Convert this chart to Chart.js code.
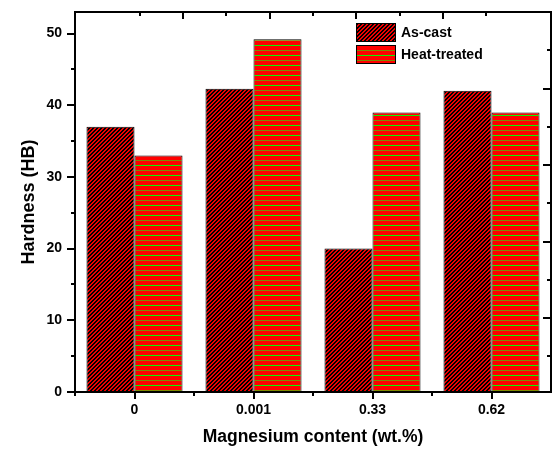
<!DOCTYPE html>
<html>
<head>
<meta charset="utf-8">
<script src="https://cdn.jsdelivr.net/npm/chart.js@4.4.0/dist/chart.umd.min.js"></script>
<style>
	html, body { margin: 0; padding: 0; background: #fff; }
	canvas { display: block; }
</style>
</head>
<body>
<canvas id="hardness-chart" width="555" height="452"></canvas>
<script>
// Data
var categories = ["0", "0.001", "0.33", "0.62"];
var asCast = [37, 42.3, 20, 42];
var heatTreated = [33, 49.2, 39, 39];
var seriesNames = ["As-cast", "Heat-treated"];

// Axis tick values
var yTickValues = [0, 5, 10, 15, 20, 25, 30, 35, 40, 45, 50];
var topTickValues = [1, 2, 3, 4, 5, 6, 7, 8, 9];
var rightTickValues = [0, 1, 2, 3, 4, 5, 6, 7, 8];

var FONT = "'Liberation Sans', Arial, sans-serif";

var canvas = document.getElementById("hardness-chart");
var ctx = canvas.getContext("2d");

// red with black "/" hatching
function makeDiagonalPattern() {
	var c = document.createElement("canvas");
	c.width = 4;
	c.height = 4;
	var g = c.getContext("2d");
	for (var x = 0; x < 4; x++) {
		for (var y = 0; y < 4; y++) {
			g.fillStyle = (x + y) % 4 < 2 ? "#000000" : "#f00000";
			g.fillRect(x, y, 1, 1);
		}
	}
	return ctx.createPattern(c, "repeat");
}

// red with green horizontal lines
function makeHorizontalPattern() {
	var c = document.createElement("canvas");
	c.width = 4;
	c.height = 10;
	var g = c.getContext("2d");
	g.fillStyle = "#ff0000";
	g.fillRect(0, 0, 4, 10);
	g.fillStyle = "#808a00";
	g.fillRect(0, 0, 4, 1);
	g.fillStyle = "#00ff00";
	g.fillRect(0, 5, 4, 1);
	return ctx.createPattern(c, "repeat");
}

// frame and tick marks on all four sides
var framePlugin = {
	id: "frame",
	afterDatasetsDraw: function (chart) {
		var c = chart.ctx;
		var a = chart.chartArea;
		var xs = chart.scales.x;
		var ys = chart.scales.y;
		var xt = chart.scales.xTop;
		var yr = chart.scales.yRight;
		c.save();
		c.strokeStyle = "#000";
		c.lineWidth = 2;
		c.strokeRect(a.left, a.top, a.right - a.left, a.bottom - a.top);
		c.beginPath();
		yTickValues.forEach(function (v) {
			var y = Math.round(ys.getPixelForValue(v));
			var len = v % 10 === 0 ? 8 : 4;
			c.moveTo(a.left - len, y);
			c.lineTo(a.left, y);
		});
		for (var i = 0; i < categories.length; i++) {
			var px = Math.round(xs.getPixelForValue(i));
			c.moveTo(px, a.bottom);
			c.lineTo(px, a.bottom + 7);
			var bx = Math.round(xs.getPixelForValue(i - 0.5));
			c.moveTo(bx, a.bottom);
			c.lineTo(bx, a.bottom + 4);
		}
		topTickValues.forEach(function (v) {
			var x = Math.round(xt.getPixelForValue(v));
			var len = v % 2 === 0 ? 7 : 4;
			c.moveTo(x, a.top);
			c.lineTo(x, a.top + len);
		});
		rightTickValues.forEach(function (v) {
			var y = Math.round(yr.getPixelForValue(v));
			var len = v % 2 === 1 ? 8 : 4;
			c.moveTo(a.right, y);
			c.lineTo(a.right - len, y);
		});
		c.stroke();
		c.restore();
	},
};

// boxed legend in the upper right of the plot
var legendPlugin = {
	id: "boxLegend",
	afterDraw: function (chart) {
		var c = chart.ctx;
		var x0 = 356, y0 = 23, w = 40, h = 19, gap = 3;
		c.save();
		chart.data.datasets.forEach(function (ds, i) {
			var y = y0 + i * (h + gap);
			c.fillStyle = ds.backgroundColor;
			c.fillRect(x0, y, w, h);
			c.strokeStyle = "#000";
			c.lineWidth = 1;
			c.strokeRect(x0 + 0.5, y + 0.5, w - 1, h - 1);
			c.fillStyle = "#000";
			c.font = "bold 14px " + FONT;
			c.textBaseline = "middle";
			c.fillText(ds.label, x0 + w + 5, y + h / 2 + 1);
		});
		c.restore();
	},
};

new Chart(ctx, {
	type: "bar",
	data: {
		labels: categories,
		datasets: [
			{
				label: seriesNames[0],
				data: asCast,
				backgroundColor: makeDiagonalPattern(),
				borderColor: "#000",
				borderWidth: 1,
				categoryPercentage: 0.807,
				barPercentage: 1.0,
			},
			{
				label: seriesNames[1],
				data: heatTreated,
				backgroundColor: makeHorizontalPattern(),
				borderColor: "#000",
				borderWidth: 1,
				categoryPercentage: 0.807,
				barPercentage: 1.0,
			},
		],
	},
	options: {
		responsive: false,
		animation: false,
		layout: { padding: { top: 12, right: 4, left: 0, bottom: 0 } },
		plugins: {
			legend: { display: false },
			tooltip: { enabled: false },
		},
		scales: {
			x: {
				type: "category",
				offset: true,
				grid: { display: false, drawTicks: false },
				border: { display: false },
				ticks: {
					color: "#000",
					padding: 10,
					font: { family: FONT, size: 14, weight: "bold" },
				},
				title: {
					display: true,
					text: "Magnesium content (wt.%)",
					color: "#000",
					font: { family: FONT, size: 17.5, weight: "bold" },
					padding: { top: 0, bottom: 4 },
				},
				afterFit: function (scale) {
					scale.height = 60;
				},
			},
			y: {
				min: 0,
				max: 53,
				grid: { display: false, drawTicks: false },
				border: { display: false },
				ticks: {
					stepSize: 5,
					color: "#000",
					padding: 13,
					font: { family: FONT, size: 14, weight: "bold" },
					callback: function (v) {
						return v % 10 === 0 ? v : "";
					},
				},
				title: {
					display: true,
					text: "Hardness (HB)",
					color: "#000",
					font: { family: FONT, size: 18, weight: "bold" },
					padding: { top: 18, bottom: 0 },
				},
				afterFit: function (scale) {
					scale.width = 75;
					scale.paddingTop = 0;
					scale.paddingBottom = 0;
				},
			},
			xTop: { type: "linear", position: "top", display: false, min: 0, max: 10 },
			yRight: { type: "linear", position: "right", display: false, min: -0.93, max: 9 },
		},
	},
	plugins: [framePlugin, legendPlugin],
});
</script>
</body>
</html>
